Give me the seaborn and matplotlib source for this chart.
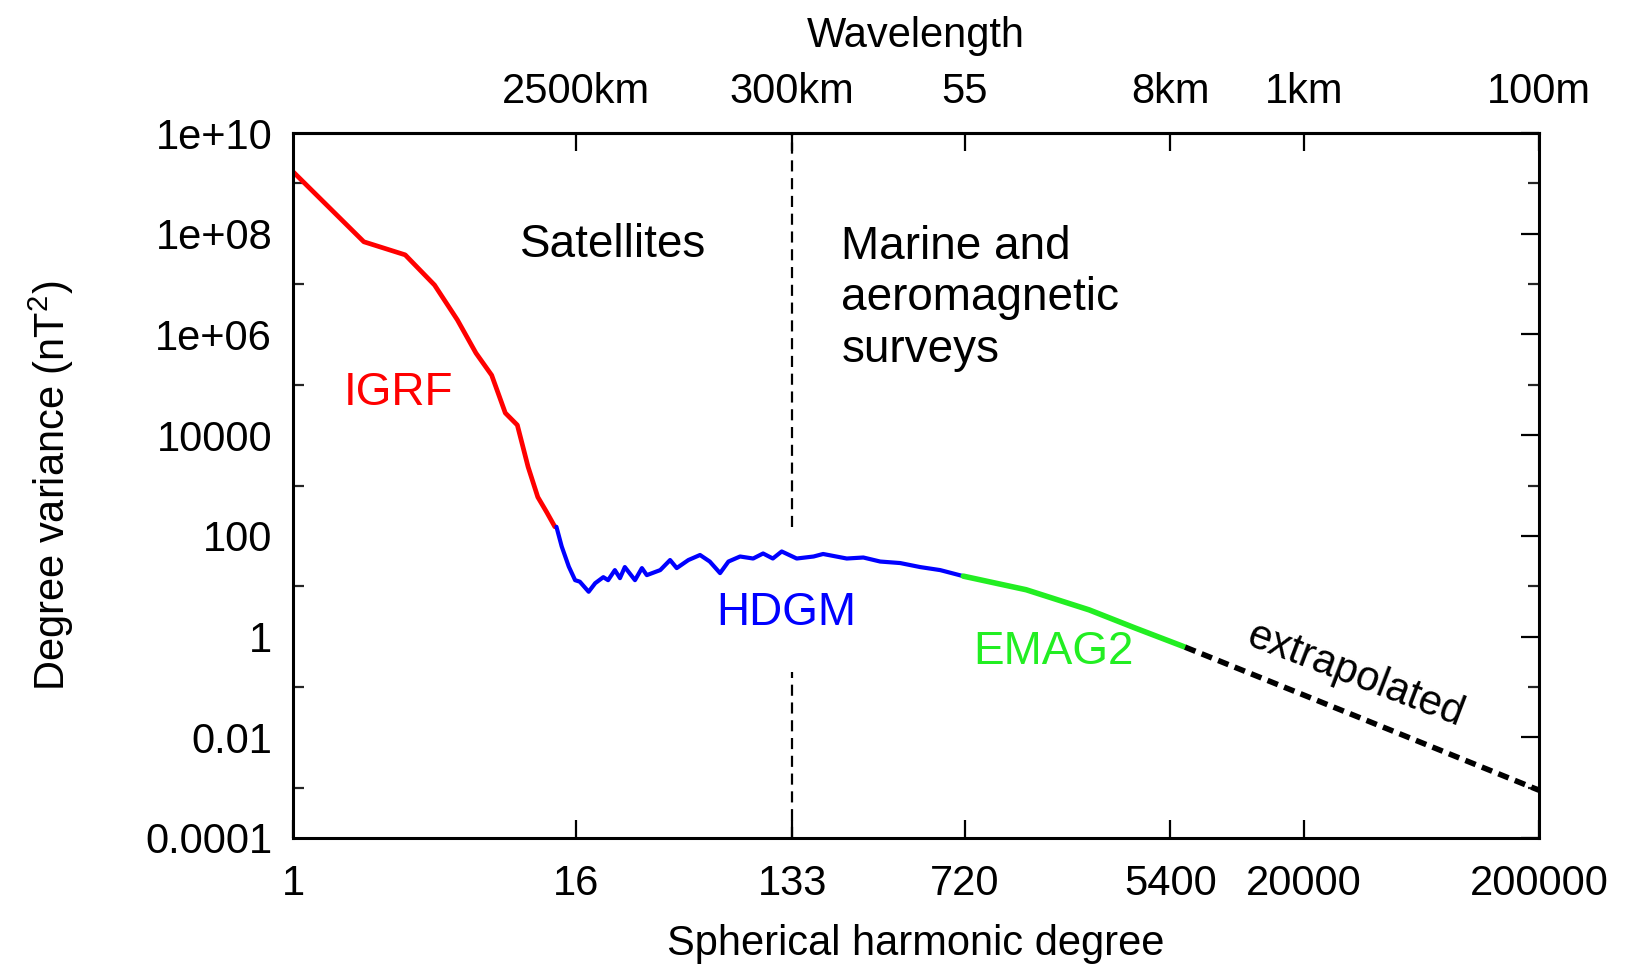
import matplotlib
matplotlib.use("Agg")
import matplotlib.pyplot as plt
import matplotlib.ticker as mticker
import numpy as np
import pandas as pd
import seaborn as sns

# IGRF (red): degree vs log10 variance
igrf_deg = [1, 2, 3, 4, 5, 6, 7, 8, 9, 10, 11, 12, 13]
igrf_log = [9.23, 7.84, 7.58, 6.98, 6.29, 5.63, 5.19, 4.44, 4.20, 3.37, 2.77, 2.47, 2.18]

# HDGM (blue)
hdgm_deg = [13.2, 13.9, 14.9, 15.85, 16.6, 18.1, 19.3, 20.9, 21.9, 23.4, 24.6, 25.8,
            28.5, 30.5, 32.0, 36.5, 40.2, 42.9, 48.1, 53.9, 59.3, 65.6, 71.2, 79.8,
            90.7, 100, 110, 120, 139, 164, 180, 227, 267, 315, 383, 466, 567, 711]
hdgm_log = [2.18, 1.79, 1.39, 1.12, 1.09, 0.89, 1.06, 1.18, 1.12, 1.32, 1.16, 1.38,
            1.12, 1.36, 1.22, 1.32, 1.52, 1.36, 1.52, 1.62, 1.49, 1.26, 1.49, 1.59,
            1.55, 1.65, 1.55, 1.69, 1.55, 1.59, 1.64, 1.55, 1.57, 1.49, 1.46, 1.38,
            1.32, 1.20]

# EMAG2 (green)
emag_deg = [711, 1316, 2440, 3830, 6250]
emag_log = [1.20, 0.93, 0.53, 0.17, -0.21]

# extrapolated (black dashed)
extra_deg = [6250, 35000, 200000]
extra_log = [-0.21, -1.62, -3.05]

x_ticks = [1, 16, 133, 720, 5400, 20000, 200000]
x_labels = ["1", "16", "133", "720", "5400", "20000", "200000"]
top_ticks = [16, 133, 720, 5400, 20000, 200000]
top_labels = ["2500km", "300km", "55", "8km", "1km", "100m"]
y_major = [1e10, 1e8, 1e6, 1e4, 1e2, 1, 1e-2, 1e-4]
y_labels = ["1e+10", "1e+08", "1e+06", "10000", "100", "1", "0.01", "0.0001"]
y_minor = [1e9, 1e7, 1e5, 1e3, 1e1, 1e-1, 1e-3]
divider_deg = 133

sns.set_style("white")
plt.rcParams["font.family"] = ["Liberation Sans", "DejaVu Sans"]
plt.rcParams["mathtext.fontset"] = "custom"
plt.rcParams["mathtext.rm"] = "Liberation Sans"
plt.rcParams["text.color"] = "black"
plt.rcParams["axes.labelcolor"] = "black"

fig = plt.figure(figsize=(16.3, 9.68), dpi=100)
ax = fig.add_axes([0.1798, 0.1343, 0.7643, 0.7283])

def seg(deg, logv):
    return pd.DataFrame({"deg": deg, "var": np.power(10.0, logv)})

sns.lineplot(data=seg(igrf_deg, igrf_log), x="deg", y="var", color="#ff0000",
             lw=3.4, sort=False, ax=ax)
sns.lineplot(data=seg(hdgm_deg, hdgm_log), x="deg", y="var", color="#0000ff",
             lw=3.0, sort=False, ax=ax)
sns.lineplot(data=seg(emag_deg, emag_log), x="deg", y="var", color="#22ee22",
             lw=4.0, sort=False, ax=ax)
sns.lineplot(data=seg(extra_deg, extra_log), x="deg", y="var", color="black",
             lw=4.0, sort=False, ax=ax, linestyle=(0, (2.0, 1.2)))

# vertical divider, broken around the HDGM label
ax.vlines(divider_deg, 150, 1e10, colors="black", linestyles=(0, (5, 3)), lw=1.6)
ax.vlines(divider_deg, 1e-4, 0.2, colors="black", linestyles=(0, (5, 3)), lw=1.6)

ax.set_xscale("log")
ax.set_yscale("log")
ax.set_xlim(1, 200000)
ax.set_ylim(1e-4, 1e10)

ax.xaxis.set_major_locator(mticker.FixedLocator(x_ticks))
ax.xaxis.set_major_formatter(mticker.FixedFormatter(x_labels))
ax.xaxis.set_minor_locator(mticker.NullLocator())
ax.yaxis.set_major_locator(mticker.FixedLocator(y_major))
ax.yaxis.set_major_formatter(mticker.FixedFormatter(y_labels))
ax.yaxis.set_minor_locator(mticker.FixedLocator(y_minor))
ax.yaxis.set_minor_formatter(mticker.NullFormatter())

ax.tick_params(axis="both", which="major", direction="in", length=13, width=1.6,
               labelsize=30, pad=17, right=True, colors="black")
ax.tick_params(axis="y", which="major", pad=15)
ax.tick_params(axis="y", which="minor", direction="in", length=8, width=1.6,
               right=True, left=True)
ax.tick_params(axis="x", which="major", bottom=True, top=False, pad=19)

for sp in ax.spines.values():
    sp.set_linewidth(2.2)
    sp.set_color("black")

top = ax.secondary_xaxis("top")
top.xaxis.set_major_locator(mticker.FixedLocator(top_ticks))
top.xaxis.set_major_formatter(mticker.FixedFormatter(top_labels))
top.xaxis.set_minor_locator(mticker.NullLocator())
top.tick_params(direction="in", length=13, width=1.6, labelsize=30, pad=15,
                colors="black")
top.spines["top"].set_linewidth(2.2)
top.set_xlabel("Wavelength", fontsize=30, labelpad=18)

ax.set_xlabel("Spherical harmonic degree", fontsize=30, labelpad=14)
ax.set_ylabel("Degree variance (nT$^2$)", fontsize=30, labelpad=50)

ax.text(23, 6e7, "Satellites", fontsize=33, ha="center", va="center")
ax.text(215, 5.2e6, "Marine and\naeromagnetic\nsurveys", fontsize=33,
        ha="left", va="center", linespacing=1.22)
ax.text(2.8, 7e4, "IGRF", fontsize=33, color="#ff0000", ha="center", va="center")
ax.text(126, 2.9, "HDGM", fontsize=33, color="#0000ff", ha="center", va="center")
ax.text(1714, 0.5, "EMAG2", fontsize=33, color="#22ee22", ha="center", va="center")
ax.text(33000, 0.17, "extrapolated", fontsize=30, ha="center", va="center",
        rotation=-21)

fig.savefig("out.png", dpi=100)
